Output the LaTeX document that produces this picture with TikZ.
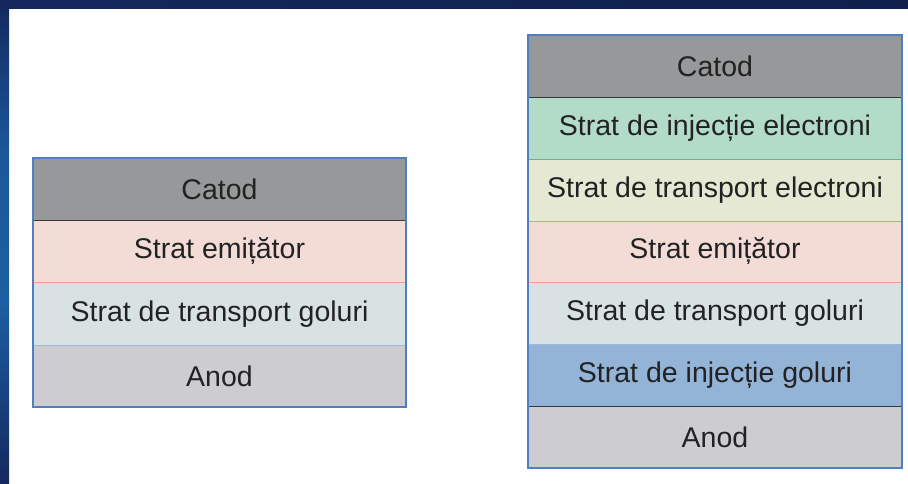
\documentclass[tikz,border=0pt]{standalone}
\usepackage{fontspec}
\setmainfont{Liberation Sans}
\definecolor{frameNavy}{HTML}{14285E}
\definecolor{frameBlue}{HTML}{1D5FA2}
\definecolor{outline}{HTML}{4F7FBF}
\definecolor{cCatod}{HTML}{97989A}
\definecolor{cEmit}{HTML}{F3DCD6}
\definecolor{cHTL}{HTML}{D8E2E2}
\definecolor{cAnod}{HTML}{CDCDD1}
\definecolor{cEIL}{HTML}{B2DCC8}
\definecolor{cETL}{HTML}{E5E9D3}
\definecolor{cHIL}{HTML}{93B3D7}
\definecolor{sepDark}{HTML}{383838}
\definecolor{sepCoral}{HTML}{F0A08C}
\definecolor{sepTeal}{HTML}{6AAE98}
\definecolor{sepOlive}{HTML}{A9BB7A}
\definecolor{sepBlue}{HTML}{9DB8D6}
\definecolor{txt}{HTML}{222222}
\tikzset{
  layer/.style={draw=none, inner sep=0pt, minimum height=62pt,
    text=txt, font=\fontsize{28.5pt}{30pt}\selectfont},
  leftlayer/.style={layer, minimum width=373pt},
  rightlayer/.style={layer, minimum width=374pt},
  sep/.style={line width=1.4pt},
  box/.style={draw=outline, line width=1.6pt}
}
\begin{document}
\begin{tikzpicture}[x=1pt, y=-1pt]
  \useasboundingbox (0,0) rectangle (908,483);
  \fill[white] (0,0) rectangle (908,483);
  % frame bands
  \shade[top color=frameNavy, bottom color=frameBlue, middle color=frameBlue!85!frameNavy]
    (0,0) rectangle (9,300);
  \shade[top color=frameBlue, bottom color=frameNavy] (0,300) rectangle (9,483);
  \shade[left color=frameNavy, right color=frameNavy!80!black] (0,0) rectangle (908,8);

  % simple stack
  \node[leftlayer, fill=cCatod] (lcat) at (219.5,189) {Catod};
  \node[leftlayer, fill=cEmit] (lemit) at (219.5,251.5) {Strat emițător};
  \node[leftlayer, fill=cHTL] (lhtl) at (219.5,314) {Strat de transport goluri};
  \node[leftlayer, fill=cAnod] (lano) at (219.5,376) {Anod};
  \draw[sep, sepDark] (lcat.south west) -- (lcat.south east);
  \draw[sep, sepCoral] (lemit.south west) -- (lemit.south east);
  \draw[sep, sepBlue] (lhtl.south west) -- (lhtl.south east);
  \draw[box] (lcat.north west) rectangle (lano.south east);

  % multilayer stack
  \node[rightlayer, fill=cCatod] (rcat) at (715,66) {Catod};
  \node[rightlayer, fill=cEIL] (reil) at (715,128) {Strat de injecție electroni};
  \node[rightlayer, fill=cETL] (retl) at (715,190) {Strat de transport electroni};
  \node[rightlayer, fill=cEmit] (remit) at (715,251.5) {Strat emițător};
  \node[rightlayer, fill=cHTL] (rhtl) at (715,313) {Strat de transport goluri};
  \node[rightlayer, fill=cHIL] (rhil) at (715,375) {Strat de injecție goluri};
  \node[rightlayer, fill=cAnod] (rano) at (715,437) {Anod};
  \draw[sep, sepDark] (rcat.south west) -- (rcat.south east);
  \draw[sep, sepTeal] (reil.south west) -- (reil.south east);
  \draw[sep, sepOlive] (retl.south west) -- (retl.south east);
  \draw[sep, sepCoral] (remit.south west) -- (remit.south east);
  \draw[sep, sepBlue] (rhtl.south west) -- (rhtl.south east);
  \draw[sep, sepDark] (rhil.south west) -- (rhil.south east);
  \draw[box] (rcat.north west) rectangle (rano.south east);
\end{tikzpicture}
\end{document}
